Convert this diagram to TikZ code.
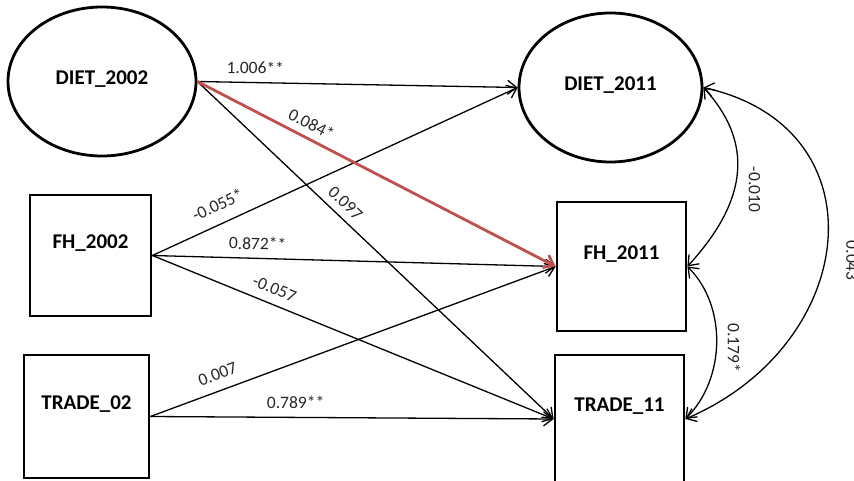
\documentclass[tikz,border=0pt]{standalone}
\usepackage{fontspec}
\setmainfont{Carlito}
\usetikzlibrary{arrows.meta,shapes.geometric}
\definecolor{pathred}{RGB}{192,80,77}

\begin{document}
\begin{tikzpicture}[x=1pt,y=-1pt,
   oval/.style={draw,ellipse,line width=2.8pt,font=\bfseries\fontsize{21}{24}\selectfont},
   sq/.style={draw,rectangle,line width=2.8pt,text depth=28pt,font=\bfseries\fontsize{21}{24}\selectfont},
   reg/.style={-{Straight Barb[length=9pt,width=14pt]},line width=1.3pt},
   cov/.style={{Straight Barb[length=9pt,width=14pt]}-{Straight Barb[length=9pt,width=14pt]},line width=1.3pt},
   lab/.style={sloped,above,inner sep=8pt,text=black!85,font=\fontsize{17.5}{20}\selectfont},
   vlab/.style={rotate=-90,anchor=south,text=black!85,font=\fontsize{17.5}{20}\selectfont}]
  \useasboundingbox (0,0) rectangle (854,481);
  \clip (0,0) rectangle (854,481);
  % latent variables
  \node[oval,minimum width=188pt,minimum height=149pt,text depth=7pt] (D02) at (102,81.5) {DIET\_2002};
  \node[oval,minimum width=183pt,minimum height=149pt,text depth=8pt] (D11) at (610.5,87.5) {DIET\_2011};
  % observed variables
  \node[sq,minimum width=121pt,minimum height=121pt] (F02) at (90.5,255.5) {FH\_2002};
  \node[sq,minimum width=125pt,minimum height=123pt] (T02) at (86.5,416.5) {TRADE\_02};
  \node[sq,minimum width=129pt,minimum height=129pt] (F11) at (621.5,266.5) {FH\_2011};
  \node[sq,minimum width=129pt,minimum height=128pt] (T11) at (619.5,419) {TRADE\_11};
  % paths
  \draw[reg] (D02.east) -- node[lab,pos=0.18]{1.006**} (D11.west);
  \draw[reg] (D02.east) -- node[lab,pos=0.39,inner sep=7pt]{0.097} (T11.west);
  \draw[reg] (F02.east) -- node[lab,pos=0.20,inner sep=12pt]{-0.055*} (D11.west);
  \draw[reg] (F02.east) -- node[lab,pos=0.26]{0.872**} (F11.west);
  \draw[reg] (F02.east) -- node[lab,pos=0.29,inner sep=9pt]{-0.057} (T11.west);
  \draw[reg] (T02.east) -- node[lab,pos=0.18,inner sep=10pt]{0.007} (F11.west);
  \draw[reg] (T02.east) -- node[lab,pos=0.36]{0.789**} (T11.west);
  \draw[reg,draw=pathred,line width=2.8pt] (D02.east) -- node[lab,pos=0.30,inner sep=7pt]{0.084*} (F11.west);
  % covariances
  \draw[cov] (D11.east) .. controls +(55,60) and +(55,-60) .. (F11.east)
    node[vlab,pos=0.57,inner sep=14pt]{-0.010};
  \draw[cov] (F11.east) .. controls +(40,40) and +(40,-40) .. (T11.east)
    node[vlab,pos=0.53,inner sep=11pt]{0.179*};
  \draw[cov] (D11.east) .. controls +(180,40) and +(175,-75) .. (T11.east)
    node[vlab,pos=0.55,inner sep=21pt]{0.043};
\end{tikzpicture}
\end{document}
